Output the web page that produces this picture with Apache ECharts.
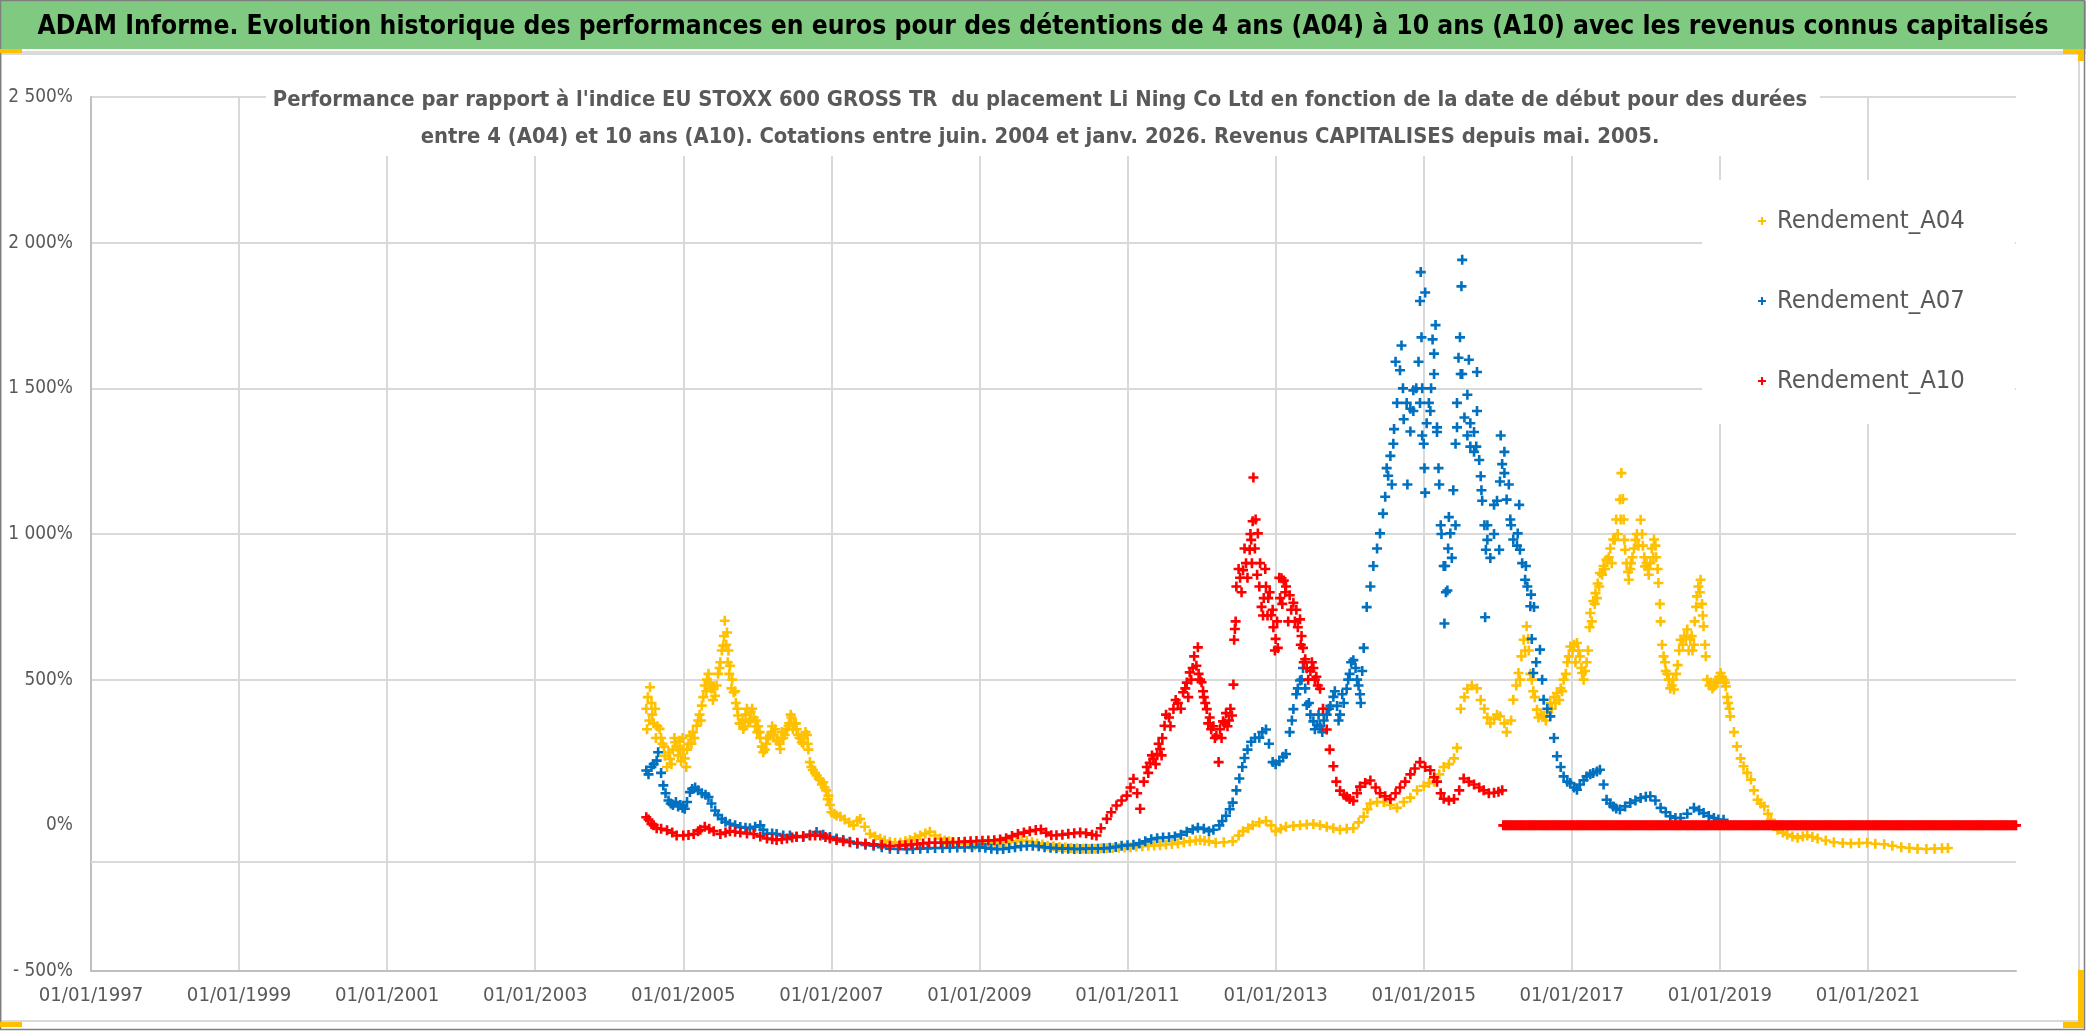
<!DOCTYPE html>
<html>
<head>
<meta charset="utf-8">
<script src="https://cdn.jsdelivr.net/npm/echarts@6/dist/echarts.min.js"></script>
<style>
html,body{margin:0;padding:0;background:#fff;}
#c{width:2086px;height:1031px;}
</style>
</head>
<body>
<div id="c"></div>
<script>
// ---------------- DATA ----------------
const TITLE = "ADAM Informe. Evolution historique des performances en euros pour des détentions de 4 ans (A04) à 10 ans (A10) avec les revenus connus capitalisés";
const SUB1 = "Performance par rapport à l'indice EU STOXX 600 GROSS TR  du placement Li Ning Co Ltd en fonction de la date de début pour des durées";
const SUB2 = "entre 4 (A04) et 10 ans (A10). Cotations entre juin. 2004 et janv. 2026. Revenus CAPITALISES depuis mai. 2005.";
const seriesNames = ["Rendement_A04", "Rendement_A07", "Rendement_A10"];
const xTickLabels = {1997:"01/01/1997",1999:"01/01/1999",2001:"01/01/2001",2003:"01/01/2003",2005:"01/01/2005",2007:"01/01/2007",2009:"01/01/2009",2011:"01/01/2011",2013:"01/01/2013",2015:"01/01/2015",2017:"01/01/2017",2019:"01/01/2019",2021:"01/01/2021"};
const yTickLabels = {"-500":"- 500%","0":"0%","500":"500%","1000":"1 000%","1500":"1 500%","2000":"2 000%","2500":"2 500%"};

// [start date as decimal year, performance %]
const A04 = [
[2004.50,400],[2004.52,440],[2004.55,474],[2004.58,380],[2004.62,400],[2004.65,340],[2004.68,331],[2004.72,280],[2004.75,239],[2004.78,200],
[2004.82,228],[2004.86,260],[2004.89,285],[2004.93,240],[2004.96,260],[2004.99,300],[2005.02,230],[2005.05,260],[2005.09,308],[2005.13,320],
[2005.18,342],[2005.22,380],[2005.25,411],[2005.29,480],[2005.32,500],[2005.36,490],[2005.40,430],[2005.43,445],[2005.47,520],[2005.50,560],
[2005.54,617],[2005.56,702],[2005.59,662],[2005.61,600],[2005.63,548],[2005.66,500],[2005.68,457],[2005.71,420],[2005.74,377],[2005.78,350],
[2005.81,331],[2005.84,380],[2005.88,354],[2005.91,390],[2005.95,370],[2005.98,360],[2006.01,340],[2006.04,300],[2006.08,251],[2006.12,280],
[2006.17,308],[2006.20,340],[2006.24,330],[2006.28,290],[2006.31,262],[2006.35,300],[2006.40,330],[2006.43,350],[2006.46,370],[2006.50,350],
[2006.53,330],[2006.57,300],[2006.60,285],[2006.63,300],[2006.67,310],[2006.69,260],[2006.71,217],[2006.75,190],[2006.80,171],[2006.85,155],
[2006.89,148],[2006.93,120],[2006.96,102],[2007.00,45],[2007.04,40],[2007.07,34],[2007.12,30],[2007.18,20],[2007.24,10],[2007.30,0],
[2007.35,15],[2007.39,22],[2007.45,-5],[2007.52,-29],[2007.59,-38],[2007.66,-46],[2007.72,-52],[2007.79,-57],[2007.86,-60],[2007.93,-60],
[2008.00,-55],[2008.06,-50],[2008.13,-42],[2008.20,-35],[2008.27,-28],[2008.33,-22],[2008.40,-35],[2008.47,-45],[2008.53,-52],[2008.59,-55],
[2008.65,-58],[2008.72,-62],[2008.80,-65],[2008.87,-67],[2008.94,-68],[2009.00,-69],[2009.07,-66],[2009.14,-63],[2009.21,-62],[2009.28,-60],
[2009.35,-58],[2009.42,-56],[2009.50,-55],[2009.57,-52],[2009.64,-54],[2009.71,-57],[2009.78,-62],[2009.85,-66],[2009.92,-70],[2010.00,-72],
[2010.08,-74],[2010.16,-76],[2010.24,-78],[2010.32,-79],[2010.40,-80],[2010.48,-81],[2010.56,-80],[2010.64,-79],[2010.72,-79],[2010.80,-78],
[2010.88,-77],[2010.96,-76],[2011.04,-75],[2011.12,-73],[2011.20,-72],[2011.28,-70],[2011.36,-69],[2011.44,-68],[2011.52,-66],[2011.60,-64],
[2011.68,-62],[2011.76,-58],[2011.84,-55],[2011.92,-52],[2011.98,-50],[2012.04,-53],[2012.10,-55],[2012.19,-60],[2012.30,-58],[2012.42,-55],
[2012.50,-35],[2012.56,-20],[2012.63,-10],[2012.69,0],[2012.78,10],[2012.87,15],[2012.94,0],[2013.00,-20],[2013.07,-12],[2013.14,-5],
[2013.24,-2],[2013.33,0],[2013.42,3],[2013.51,5],[2013.60,0],[2013.69,-5],[2013.78,-10],[2013.87,-15],[2013.96,-12],[2014.05,-10],
[2014.12,10],[2014.19,30],[2014.24,55],[2014.28,75],[2014.37,80],[2014.46,80],[2014.55,70],[2014.64,60],[2014.73,80],[2014.82,95],
[2014.91,120],[2015.00,135],[2015.07,145],[2015.14,150],[2015.21,175],[2015.27,200],[2015.34,210],[2015.41,230],[2015.45,266],[2015.50,400],
[2015.55,440],[2015.59,469],[2015.65,480],[2015.72,470],[2015.77,430],[2015.82,400],[2015.86,370],[2015.90,350],[2015.95,365],[2015.99,380],
[2016.03,374],[2016.09,350],[2016.12,320],[2016.18,360],[2016.21,431],[2016.25,480],[2016.28,523],[2016.32,580],[2016.35,637],[2016.39,683],
[2016.42,600],[2016.46,500],[2016.50,440],[2016.53,397],[2016.58,380],[2016.62,374],[2016.67,390],[2016.71,420],[2016.76,440],[2016.80,454],
[2016.85,470],[2016.89,500],[2016.94,560],[2016.98,614],[2017.03,620],[2017.07,626],[2017.11,580],[2017.14,523],[2017.18,530],[2017.22,600],
[2017.25,729],[2017.29,770],[2017.32,797],[2017.35,830],[2017.38,866],[2017.43,890],[2017.47,912],[2017.52,950],[2017.56,981],[2017.60,1050],
[2017.65,1118],[2017.67,1209],[2017.70,1050],[2017.72,946],[2017.77,843],[2017.80,900],[2017.84,950],[2017.88,1000],[2017.93,1049],[2017.96,960],
[2017.99,889],[2018.03,880],[2018.06,900],[2018.11,981],[2018.14,920],[2018.17,832],[2018.20,700],[2018.24,580],[2018.27,530],[2018.31,500],
[2018.35,480],[2018.38,466],[2018.43,550],[2018.47,637],[2018.52,650],[2018.56,672],[2018.60,640],[2018.63,600],[2018.66,700],[2018.69,786],
[2018.74,843],[2018.76,760],[2018.78,683],[2018.81,580],[2018.83,500],[2018.88,490],[2018.92,477],[2018.97,500],[2019.01,523],[2019.05,500],
[2019.08,477],[2019.11,420],[2019.14,374],[2019.19,320],[2019.23,271],[2019.28,230],[2019.32,203],[2019.37,180],[2019.42,157],[2019.46,120],
[2019.51,88],[2019.55,75],[2019.60,65],[2019.65,40],[2019.69,19],[2019.74,0],[2019.78,-15],[2019.85,-25],[2019.91,-32],[2019.98,-38],
[2020.05,-43],[2020.12,-38],[2020.18,-35],[2020.25,-40],[2020.32,-45],[2020.43,-52],[2020.54,-58],[2020.66,-61],[2020.77,-62],[2020.88,-61],
[2020.99,-60],[2021.10,-63],[2021.22,-65],[2021.33,-70],[2021.45,-75],[2021.56,-78],[2021.67,-80],[2021.79,-81],[2021.90,-80],[2022.00,-79],
[2022.08,-78]
];
// further A04 readings inside the wider point clouds
const A04_cloud = [
[2004.51,330],[2004.54,360],[2004.57,420],[2004.60,350],[2004.63,300],[2004.70,300],[2004.74,270],[2004.80,250],[2004.84,210],[2004.88,300],
[2004.91,270],[2004.95,290],[2004.97,220],[2005.00,260],[2005.04,200],[2005.07,280],[2005.11,280],[2005.15,300],[2005.20,360],[2005.24,360],
[2005.27,440],[2005.31,460],[2005.34,520],[2005.38,470],[2005.41,470],[2005.45,480],[2005.49,540],[2005.52,600],[2005.55,650],[2005.58,620],
[2005.60,560],[2005.62,520],[2005.65,470],[2005.70,460],[2005.73,400],[2005.76,350],[2005.80,360],[2005.83,340],[2005.86,400],[2005.90,360],
[2005.93,400],[2005.97,340],[2006.00,320],[2006.03,320],[2006.06,270],[2006.10,260],[2006.14,300],[2006.19,320],[2006.22,310],[2006.26,290],
[2006.30,280],[2006.33,320],[2006.37,310],[2006.42,340],[2006.45,380],[2006.48,330],[2006.52,350],[2006.55,310],[2006.59,300],[2006.62,280],
[2006.65,320],[2006.68,280],[2006.73,200],[2006.78,180],[2006.83,160],[2006.87,140],[2006.91,130],[2006.95,90],[2006.98,70],
[2016.30,500],[2016.37,600],[2016.41,640],[2016.44,520],[2016.48,460],[2016.55,370],[2016.65,360],[2016.73,400],[2016.78,420],[2016.83,430],
[2016.87,460],[2016.92,520],[2016.96,580],[2017.01,600],[2017.05,560],[2017.09,600],[2017.13,540],[2017.16,500],[2017.20,560],[2017.24,680],
[2017.27,700],[2017.31,760],[2017.34,780],[2017.37,820],[2017.41,860],[2017.45,880],[2017.50,920],[2017.54,900],[2017.58,980],[2017.62,1000],
[2017.66,1050],[2017.69,1120],[2017.71,980],[2017.74,900],[2017.76,870],[2017.79,880],[2017.82,920],[2017.86,980],[2017.90,960],[2017.95,1000],
[2017.98,920],[2018.01,900],[2018.04,860],[2018.08,950],[2018.10,920],[2018.13,960],[2018.16,880],[2018.19,760],[2018.22,620],[2018.26,560],
[2018.29,520],[2018.33,470],[2018.37,500],[2018.41,520],[2018.45,600],[2018.50,620],[2018.54,640],[2018.58,600],[2018.62,650],[2018.65,620],
[2018.68,750],[2018.71,820],[2018.73,800],[2018.77,720],[2018.80,620],[2018.86,480],[2018.90,470],[2018.95,490],[2018.99,510],[2019.03,510],
[2019.07,490],[2019.10,440],[2019.13,400]
];

const A07 = [
[2004.50,188],[2004.53,175],[2004.57,200],[2004.60,210],[2004.64,222],[2004.66,251],[2004.70,180],[2004.73,137],[2004.76,110],[2004.80,85],
[2004.83,75],[2004.86,70],[2004.90,80],[2004.93,65],[2004.96,70],[2004.99,60],[2005.02,57],[2005.05,80],[2005.09,114],[2005.12,125],
[2005.16,130],[2005.20,120],[2005.25,110],[2005.30,105],[2005.34,97],[2005.38,75],[2005.43,51],[2005.47,35],[2005.52,22],[2005.57,12],
[2005.63,5],[2005.70,0],[2005.77,-6],[2005.84,-8],[2005.90,-10],[2005.97,-5],[2006.04,0],[2006.08,-15],[2006.13,-29],[2006.20,-28],
[2006.26,-30],[2006.35,-35],[2006.44,-35],[2006.53,-38],[2006.62,-40],[2006.71,-32],[2006.80,-23],[2006.89,-32],[2006.98,-40],[2007.07,-45],
[2007.16,-50],[2007.25,-56],[2007.35,-63],[2007.46,-67],[2007.57,-70],[2007.68,-75],[2007.79,-80],[2007.90,-81],[2008.02,-82],[2008.10,-81],
[2008.20,-80],[2008.30,-79],[2008.40,-78],[2008.50,-78],[2008.60,-77],[2008.70,-76],[2008.80,-76],[2008.90,-75],[2009.00,-75],[2009.08,-77],
[2009.16,-80],[2009.24,-82],[2009.32,-81],[2009.40,-78],[2009.48,-75],[2009.56,-72],[2009.64,-70],[2009.72,-70],[2009.80,-72],[2009.88,-75],
[2009.96,-77],[2010.04,-79],[2010.12,-80],[2010.20,-80],[2010.28,-81],[2010.36,-81],[2010.44,-80],[2010.52,-80],[2010.60,-80],[2010.68,-79],
[2010.76,-77],[2010.84,-74],[2010.92,-70],[2011.00,-68],[2011.08,-67],[2011.16,-62],[2011.24,-55],[2011.32,-48],[2011.40,-44],[2011.48,-42],
[2011.56,-41],[2011.64,-38],[2011.72,-32],[2011.80,-22],[2011.88,-14],[2011.95,-8],[2012.03,-12],[2012.10,-20],[2012.16,-15],[2012.24,0],
[2012.28,15],[2012.33,33],[2012.38,55],[2012.42,78],[2012.47,120],[2012.51,161],[2012.55,200],[2012.58,231],[2012.62,260],[2012.67,287],
[2012.72,300],[2012.78,301],[2012.82,320],[2012.87,329],[2012.91,280],[2012.96,217],[2013.00,210],[2013.05,220],[2013.10,235],[2013.14,245],
[2013.19,320],[2013.24,399],[2013.28,450],[2013.33,497],[2013.37,540],[2013.40,470],[2013.42,413],[2013.47,380],[2013.51,357],[2013.56,345],
[2013.60,340],[2013.65,360],[2013.69,380],[2013.74,410],[2013.78,441],[2013.83,410],[2013.87,380],[2013.92,420],[2013.96,469],[2014.00,520],
[2014.05,567],[2014.10,500],[2014.14,450],[2014.17,530],[2014.19,609],[2014.23,749],[2014.28,820],[2014.32,890],[2014.37,950],[2014.41,1002],
[2014.45,1070],[2014.48,1128],[2014.52,1200],[2014.55,1268],[2014.60,1360],[2014.62,1591],[2014.64,1450],[2014.68,1562],[2014.70,1647],[2014.72,1500],
[2014.77,1450],[2014.78,1170],[2014.82,1430],[2014.86,1422],[2014.90,1500],[2014.93,1591],[2014.95,1800],[2014.96,1899],[2014.97,1675],[2014.98,1500],
[2015.00,1310],[2015.02,1829],[2015.04,1380],[2015.07,1450],[2015.10,1500],[2015.12,1668],[2015.14,1549],[2015.16,1717],[2015.18,1350],[2015.21,1170],
[2015.24,1000],[2015.27,890],[2015.28,693],[2015.30,800],[2015.33,950],[2015.36,1002],[2015.40,1150],[2015.43,1310],[2015.45,1450],[2015.47,1605],
[2015.49,1675],[2015.50,1549],[2015.51,1850],[2015.52,1941],[2015.55,1400],[2015.59,1338],[2015.61,1598],[2015.63,1300],[2015.68,1350],[2015.71,1300],
[2015.72,1556],[2015.75,1254],[2015.78,1150],[2015.82,1030],[2015.83,714],[2015.86,980],[2015.90,918],[2015.95,1000],[2015.99,1114],[2016.03,1180],
[2016.06,1240],[2016.09,1209],[2016.12,1118],[2016.17,1050],[2016.21,981],[2016.26,960],[2016.30,946],[2016.33,900],[2016.37,843],[2016.40,820],
[2016.44,752],[2016.46,640],[2016.48,523],[2016.52,560],[2016.57,603],[2016.60,500],[2016.62,431],[2016.67,400],[2016.71,374],[2016.76,300],
[2016.80,237],[2016.85,200],[2016.89,168],[2016.94,150],[2016.98,145],[2017.03,130],[2017.07,122],[2017.11,140],[2017.16,155],[2017.20,168],
[2017.25,175],[2017.29,180],[2017.34,185],[2017.38,191],[2017.43,140],[2017.47,88],[2017.52,75],[2017.56,65],[2017.60,58],[2017.65,54],
[2017.72,65],[2017.79,77],[2017.86,85],[2017.93,94],[2018.00,98],[2018.06,100],[2018.13,85],[2018.20,60],[2018.27,45],[2018.33,31],
[2018.40,25],[2018.47,25],[2018.56,40],[2018.65,60],[2018.72,52],[2018.78,42],[2018.85,32],[2018.92,25],[2018.98,20],[2019.05,19]
];
// further A07 readings inside the wider point clouds
const A07_cloud = [
[2013.22,360],[2013.30,470],[2013.35,500],[2013.45,420],[2013.53,330],[2013.58,380],[2013.63,320],[2013.72,400],[2013.80,460],[2013.85,360],
[2013.90,450],[2013.98,500],[2014.02,560],[2014.08,540],[2014.12,480],[2014.15,420],
[2014.50,1226],[2014.57,1170],[2014.59,1310],[2014.73,1394],[2014.82,1352],[2014.86,1493],[2014.95,1450],[2014.98,1338],[2015.01,1226],[2015.02,1142],
[2015.09,1422],[2015.14,1619],[2015.18,1366],[2015.20,1226],[2015.23,1030],[2015.29,890],[2015.32,806],[2015.34,1058],[2015.38,918],[2015.43,1030],
[2015.45,1366],[2015.52,1549],[2015.59,1478],[2015.63,1380],[2015.68,1282],[2015.72,1422],[2015.77,1198],[2015.79,1114],[2015.84,946],[2015.86,1030],
[2015.95,1100],[2016.02,946],[2016.04,1338],[2016.09,1282],[2016.15,1170],[2016.18,1030],[2016.27,1002],[2016.29,1100],[2016.38,890],[2016.45,792],
[2016.49,749]
];

const A10 = [
[2004.50,28],[2004.53,20],[2004.57,5],[2004.60,0],[2004.64,-10],[2004.70,-12],[2004.78,-17],[2004.85,-25],[2004.91,-35],[2005.00,-35],
[2005.07,-33],[2005.14,-30],[2005.20,-20],[2005.23,-15],[2005.29,-5],[2005.35,-12],[2005.41,-20],[2005.50,-30],[2005.57,-25],[2005.63,-20],
[2005.70,-22],[2005.77,-25],[2005.86,-28],[2005.95,-30],[2006.04,-38],[2006.13,-45],[2006.20,-48],[2006.26,-50],[2006.33,-48],[2006.40,-45],
[2006.47,-42],[2006.53,-40],[2006.62,-37],[2006.71,-35],[2006.78,-35],[2006.85,-35],[2006.92,-40],[2006.98,-45],[2007.07,-50],[2007.16,-55],
[2007.25,-58],[2007.35,-60],[2007.46,-62],[2007.57,-65],[2007.68,-67],[2007.79,-70],[2007.92,-69],[2008.00,-68],[2008.08,-66],[2008.16,-64],
[2008.24,-62],[2008.32,-60],[2008.40,-60],[2008.48,-60],[2008.56,-59],[2008.64,-58],[2008.72,-57],[2008.80,-56],[2008.88,-55],[2008.96,-54],
[2009.04,-53],[2009.12,-52],[2009.20,-51],[2009.28,-49],[2009.36,-44],[2009.44,-37],[2009.52,-30],[2009.60,-25],[2009.68,-20],[2009.76,-16],
[2009.83,-14],[2009.90,-25],[2009.97,-34],[2010.04,-34],[2010.12,-32],[2010.20,-29],[2010.28,-27],[2010.36,-25],[2010.44,-27],[2010.52,-32],
[2010.58,-35],[2010.64,-10],[2010.72,22],[2010.78,45],[2010.85,68],[2010.92,85],[2010.99,102],[2011.04,130],[2011.08,160],[2011.13,110],
[2011.17,57],[2011.22,150],[2011.26,200],[2011.30,215],[2011.35,228],[2011.40,245],[2011.44,262],[2011.47,300],[2011.50,342],[2011.56,370],
[2011.62,399],[2011.68,420],[2011.75,457],[2011.80,490],[2011.84,525],[2011.88,540],[2011.93,548],[2011.95,611],[2011.98,500],[2012.00,491],
[2012.03,440],[2012.07,399],[2012.11,370],[2012.16,340],[2012.20,308],[2012.23,217],[2012.25,330],[2012.29,357],[2012.33,385],[2012.37,360],
[2012.41,377],[2012.43,483],[2012.44,637],[2012.45,674],[2012.47,820],[2012.52,850],[2012.56,876],[2012.60,900],[2012.65,946],[2012.67,980],
[2012.69,1044],[2012.70,1194],[2012.73,1050],[2012.76,1002],[2012.79,900],[2012.81,750],[2012.84,780],[2012.87,820],[2012.90,780],[2012.94,721],
[2012.97,680],[2013.00,640],[2013.03,609],[2013.06,780],[2013.08,848],[2013.11,840],[2013.14,820],[2013.19,790],[2013.24,764],[2013.28,740],
[2013.33,707],[2013.35,650],[2013.37,609],[2013.40,570],[2013.42,539],[2013.47,530],[2013.51,540],[2013.55,510],[2013.60,469],[2013.64,400],
[2013.69,329],[2013.73,260],[2013.78,203],[2013.82,150],[2013.87,119],[2013.92,105],[2013.96,98],[2014.00,90],[2014.05,84],[2014.10,110],
[2014.14,133],[2014.21,145],[2014.28,154],[2014.35,130],[2014.41,110],[2014.48,100],[2014.55,90],[2014.62,110],[2014.68,130],[2014.75,150],
[2014.82,175],[2014.88,195],[2014.95,217],[2015.02,200],[2015.09,189],[2015.14,165],[2015.18,150],[2015.23,110],[2015.27,91],[2015.34,85],
[2015.41,90],[2015.48,120],[2015.54,161],[2015.61,150],[2015.68,140],[2015.75,130],[2015.81,120],[2015.88,110],[2015.95,112],[2016.01,115],
[2016.06,120]
];
// further A10 readings inside the wider point clouds
const A10_cloud = [
[2011.28,180],[2011.33,240],[2011.38,210],[2011.42,280],[2011.46,240],[2011.52,380],[2011.58,340],[2011.65,430],[2011.72,400],[2011.78,470],
[2011.82,440],[2011.86,500],[2011.90,580],[2011.96,520],[2012.02,460],[2012.05,420],[2012.09,350],[2012.13,330],[2012.18,300],[2012.27,300],
[2012.31,350],[2012.35,340],[2012.39,400],
[2012.46,700],[2012.50,880],[2012.54,800],[2012.58,950],[2012.62,850],[2012.66,1000],[2012.68,900],[2012.72,950],[2012.75,860],[2012.78,820],
[2012.83,720],[2012.86,880],[2012.89,720],[2012.92,800],[2012.96,740],[2012.99,600],[2013.02,700],[2013.05,850],[2013.09,760],[2013.13,800],
[2013.17,700],[2013.21,740],[2013.26,700],[2013.30,680],[2013.34,620],[2013.38,560],[2013.44,500],[2013.49,560],[2013.53,500],[2013.57,480]
];
// start dates (decimal years) where Rendement_A10 is plotted at 0 %
const A10_zero_dates = [
2016.075,2016.100,2016.125,2016.150,2016.175,2016.200,2016.225,2016.250,2016.275,2016.300,2016.325,2016.350,2016.375,2016.400,2016.425,2016.450,2016.475,2016.500,2016.525,2016.550,2016.575,2016.600,2016.625,2016.650,2016.675,2016.700,2016.725,2016.750,2016.775,2016.800,2016.825,2016.850,2016.875,2016.900,2016.925,2016.950,2016.975,
2017.000,2017.025,2017.050,2017.075,2017.100,2017.125,2017.150,2017.175,2017.200,2017.225,2017.250,2017.275,2017.300,2017.325,2017.350,2017.375,2017.400,2017.425,2017.450,2017.475,2017.500,2017.525,2017.550,2017.575,2017.600,2017.625,2017.650,2017.675,2017.700,2017.725,2017.750,2017.775,2017.800,2017.825,2017.850,2017.875,2017.900,2017.925,2017.950,2017.975,
2018.000,2018.025,2018.050,2018.075,2018.100,2018.125,2018.150,2018.175,2018.200,2018.225,2018.250,2018.275,2018.300,2018.325,2018.350,2018.375,2018.400,2018.425,2018.450,2018.475,2018.500,2018.525,2018.550,2018.575,2018.600,2018.625,2018.650,2018.675,2018.700,2018.725,2018.750,2018.775,2018.800,2018.825,2018.850,2018.875,2018.900,2018.925,2018.950,2018.975,
2019.000,2019.025,2019.050,2019.075,2019.100,2019.125,2019.150,2019.175,2019.200,2019.225,2019.250,2019.275,2019.300,2019.325,2019.350,2019.375,2019.400,2019.425,2019.450,2019.475,2019.500,2019.525,2019.550,2019.575,2019.600,2019.625,2019.650,2019.675,2019.700,2019.725,2019.750,2019.775,2019.800,2019.825,2019.850,2019.875,2019.900,2019.925,2019.950,2019.975,
2020.000,2020.025,2020.050,2020.075,2020.100,2020.125,2020.150,2020.175,2020.200,2020.225,2020.250,2020.275,2020.300,2020.325,2020.350,2020.375,2020.400,2020.425,2020.450,2020.475,2020.500,2020.525,2020.550,2020.575,2020.600,2020.625,2020.650,2020.675,2020.700,2020.725,2020.750,2020.775,2020.800,2020.825,2020.850,2020.875,2020.900,2020.925,2020.950,2020.975,
2021.000,2021.025,2021.050,2021.075,2021.100,2021.125,2021.150,2021.175,2021.200,2021.225,2021.250,2021.275,2021.300,2021.325,2021.350,2021.375,2021.400,2021.425,2021.450,2021.475,2021.500,2021.525,2021.550,2021.575,2021.600,2021.625,2021.650,2021.675,2021.700,2021.725,2021.750,2021.775,2021.800,2021.825,2021.850,2021.875,2021.900,2021.925,2021.950,2021.975,
2022.000,2022.025,2022.050,2022.075,2022.100,2022.125,2022.150,2022.175,2022.200,2022.225,2022.250,2022.275,2022.300,2022.325,2022.350,2022.375,2022.400,2022.425,2022.450,2022.475,2022.500,2022.525,2022.550,2022.575,2022.600,2022.625,2022.650,2022.675,2022.700,2022.725,2022.750,2022.775,2022.800,2022.825,2022.850,2022.875,2022.900,2022.925,2022.950,2022.975,
2023.000
];
const A10_zero_value = 0;
const AXIS_CROSS_LINE = -124; // horizontal reference line

// ---------------- STYLE ----------------
const FONT = '"Liberation Sans Narrow", "DejaVu Sans Condensed", "Roboto", sans-serif';
const COLORS = ['#FFC000', '#0070C0', '#FF0000'];
const GRAY_TXT = '#595959';
const PLUS = 'path://M3.7,0H6.3V3.7H10V6.3H6.3V10H3.7V6.3H0V3.7H3.7Z';
const MARK = 10;

const mctx = document.createElement('canvas').getContext('2d');
function fit(text, weight, target) {
  mctx.font = weight + ' 100px ' + FONT;
  return 100 * target / mctx.measureText(text).width;
}
const titleSize = fit(TITLE, 'bold', 2012);
const subSize = fit(SUB1, 'bold', 1535);
const legSize = fit('Rendement_A04', 'normal', 188);
const xLabSize = fit('01/01/1997', 'normal', 95) * 1.1;
const yLabSize = fit('2 500%', 'normal', 60) * 1.08;

const A04_all = A04.concat(A04_cloud);
const A07_all = A07.concat(A07_cloud);
const A10_all = A10.concat(A10_cloud, A10_zero_dates.map(d => [d, A10_zero_value]));

const W = 2086, H = 1031;
const chart = echarts.init(document.getElementById('c'), null, {width: W, height: H});

const option = {
  animation: false,
  backgroundColor: '#fff',
  graphic: [
    {type: 'rect', z: -10, silent: true, shape: {x: 0, y: 1, width: W, height: 48}, style: {fill: '#80C980'}},
    {type: 'rect', z: -10, silent: true, shape: {x: 0, y: 51, width: W, height: 3}, style: {fill: '#d9d9d9'}},
    {type: 'rect', z: -10, silent: true, shape: {x: 1, y: 54, width: 2078, height: 967}, style: {fill: 'none', stroke: '#d9d9d9', lineWidth: 2}},
    {type: 'rect', z: -9, silent: true, shape: {x: 0.5, y: 0.5, width: W - 2, height: H - 2}, style: {fill: 'none', stroke: '#7f7f7f', lineWidth: 1.5}},
    {type: 'rect', z: -8, silent: true, shape: {x: 0, y: 49, width: 22, height: 4}, style: {fill: '#FFC000'}},
    {type: 'rect', z: -8, silent: true, shape: {x: 2063, y: 49, width: 21, height: 5}, style: {fill: '#FFC000'}},
    {type: 'rect', z: -8, silent: true, shape: {x: 2078, y: 49, width: 6, height: 12}, style: {fill: '#FFC000'}},
    {type: 'rect', z: -8, silent: true, shape: {x: 2078, y: 970, width: 6, height: 58}, style: {fill: '#FFC000'}},
    {type: 'rect', z: -8, silent: true, shape: {x: 2063, y: 1022, width: 21, height: 6}, style: {fill: '#FFC000'}},
    {type: 'rect', z: -8, silent: true, shape: {x: 0, y: 1022, width: 22, height: 5}, style: {fill: '#FFC000'}},
    // subtitle box (covers the grid like the chart title box)
    {type: 'rect', z: 50, silent: true, shape: {x: 266, y: 81, width: 1554, height: 75}, style: {fill: '#fff'}},
    {type: 'text', z: 51, silent: true, x: 1040, y: 100,
      style: {text: SUB1, align: 'center', verticalAlign: 'middle', fontFamily: FONT, fontWeight: 'bold', fontSize: subSize, fill: GRAY_TXT}},
    {type: 'text', z: 51, silent: true, x: 1040, y: 137,
      style: {text: SUB2, align: 'center', verticalAlign: 'middle', fontFamily: FONT, fontWeight: 'bold', fontSize: subSize, fill: GRAY_TXT}}
  ],
  title: {
    text: TITLE, left: 'center', top: 7, padding: 0,
    textStyle: {fontFamily: FONT, fontWeight: 'bold', fontSize: titleSize, color: '#000', lineHeight: 40}
  },
  legend: {
    orient: 'vertical', left: 1702, top: 180,
    padding: [26, 50, 28, 56], backgroundColor: '#fff',
    itemWidth: 8, itemHeight: 30, itemGap: 50,
    icon: PLUS,
    data: seriesNames,
    textStyle: {fontFamily: FONT, fontSize: legSize, color: GRAY_TXT, lineHeight: 30, padding: [0, 0, 0, 6]}
  },
  grid: {left: 91, right: W - 2016, top: 97, bottom: H - 971, containLabel: false},
  xAxis: {
    type: 'value', min: 1997, max: 2023, interval: 2,
    axisLine: {onZero: false, lineStyle: {color: '#bfbfbf', width: 2}},
    axisTick: {show: false},
    splitLine: {show: true, showMaxLine: false, lineStyle: {color: '#d9d9d9', width: 2}},
    axisLabel: {
      margin: 15, color: GRAY_TXT, fontFamily: FONT, fontSize: xLabSize, showMaxLabel: false,
      formatter: v => xTickLabels[v] || ''
    }
  },
  yAxis: {
    type: 'value', min: -500, max: 2500, interval: 500,
    axisLine: {show: true, lineStyle: {color: '#bfbfbf', width: 2}},
    axisTick: {show: false},
    splitLine: {show: true, lineStyle: {width: 2, color: ['#d9d9d9', 'rgba(0,0,0,0)', '#d9d9d9', '#d9d9d9', '#d9d9d9', '#d9d9d9', '#d9d9d9']}},
    axisLabel: {
      margin: 18, color: GRAY_TXT, fontFamily: FONT, fontSize: yLabSize,
      formatter: v => yTickLabels[String(v)] || ''
    }
  },
  series: [
    {
      name: seriesNames[0], type: 'scatter', data: A04_all, symbol: PLUS, symbolSize: MARK,
      itemStyle: {color: COLORS[0], opacity: 1}, z: 2,
      markLine: {
        silent: true, symbol: 'none', animation: false, label: {show: false},
        lineStyle: {color: '#d9d9d9', width: 2, type: 'solid'},
        data: [{yAxis: AXIS_CROSS_LINE}]
      }
    },
    {name: seriesNames[1], type: 'scatter', data: A07_all, symbol: PLUS, symbolSize: MARK, itemStyle: {color: COLORS[1], opacity: 1}, z: 3},
    {name: seriesNames[2], type: 'scatter', data: A10_all, symbol: PLUS, symbolSize: MARK, itemStyle: {color: COLORS[2], opacity: 1}, z: 4}
  ]
};
chart.setOption(option);
</script>
</body>
</html>
